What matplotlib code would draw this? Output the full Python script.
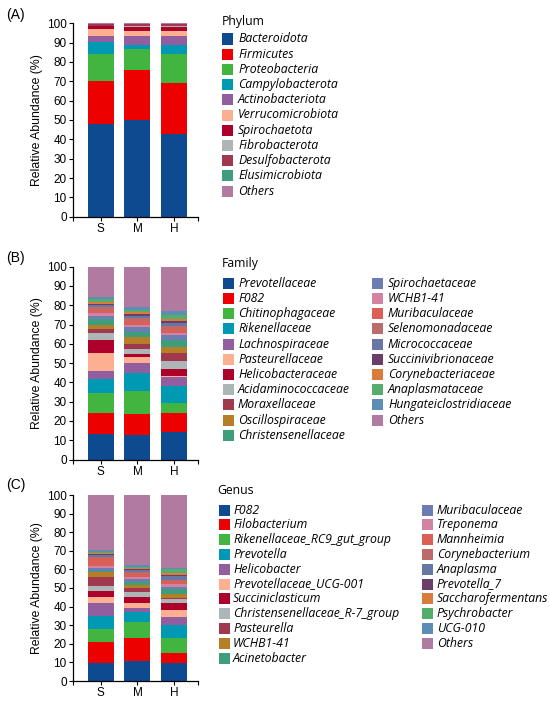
import numpy as np
import matplotlib
matplotlib.use('Agg')
import matplotlib.pyplot as plt
from matplotlib.patches import Rectangle

# ---------------- data ----------------
groups = ['S', 'M', 'H']

phylum_names = ['Bacteroidota', 'Firmicutes', 'Proteobacteria', 'Campylobacterota',
                'Actinobacteriota', 'Verrucomicrobiota', 'Spirochaetota', 'Fibrobacterota',
                'Desulfobacterota', 'Elusimicrobiota', 'Others']
phylum_S = [48.0, 22.2, 13.9, 6.4, 2.9, 3.5, 1.6, 0.3, 0.6, 0.2, 0.4]
phylum_M = [50.0, 25.9, 10.8, 2.1, 4.6, 2.6, 2.2, 0.4, 0.8, 0.2, 0.4]
phylum_H = [43.0, 26.0, 15.1, 4.7, 4.8, 2.4, 2.0, 0.5, 0.9, 0.4, 0.2]

family_names = ['Prevotellaceae', 'F082', 'Chitinophagaceae', 'Rikenellaceae',
                'Lachnospiraceae', 'Pasteurellaceae', 'Helicobacteraceae',
                'Acidaminococcaceae', 'Moraxellaceae', 'Oscillospiraceae',
                'Christensenellaceae', 'Spirochaetaceae', 'WCHB1-41', 'Muribaculaceae',
                'Selenomonadaceae', 'Micrococcaceae', 'Succinivibrionaceae',
                'Corynebacteriaceae', 'Anaplasmataceae', 'Hungateiclostridiaceae', 'Others']
family_S = [13.4, 10.7, 10.4, 7.2, 4.0, 9.5, 6.9, 3.5, 2.2, 2.0, 3.0, 1.7, 1.5, 1.8,
            1.2, 1.0, 0.8, 0.7, 1.5, 1.5, 15.5]
family_M = [12.6, 11.0, 12.1, 9.1, 5.0, 3.2, 1.5, 3.0, 2.5, 3.5, 2.5, 2.5, 1.5, 2.0,
            1.5, 1.0, 1.0, 1.0, 1.3, 1.2, 21.0]
family_H = [14.1, 10.0, 5.2, 9.0, 4.3, 0.5, 4.0, 3.9, 4.2, 3.4, 3.4, 2.4, 1.4, 2.0,
            1.6, 1.2, 1.0, 1.2, 2.0, 2.2, 23.0]

genus_names = ['F082', 'Filobacterium', 'Rikenellaceae_RC9_gut_group', 'Prevotella',
               'Helicobacter', 'Prevotellaceae_UCG-001', 'Succiniclasticum',
               'Christensenellaceae_R-7_group', 'Pasteurella', 'WCHB1-41', 'Acinetobacter',
               'Muribaculaceae', 'Treponema', 'Mannheimia', 'Corynebacterium', 'Anaplasma',
               'Prevotella_7', 'Saccharofermentans', 'Psychrobacter', 'UCG-010', 'Others']
genus_S = [9.9, 11.1, 6.8, 7.3, 7.0, 3.2, 3.1, 2.9, 4.5, 2.7, 0.5, 1.9, 1.0, 4.0,
           1.0, 0.6, 0.6, 0.6, 0.8, 0.9, 29.6]
genus_M = [10.8, 12.1, 9.0, 5.4, 1.8, 3.0, 3.2, 2.7, 1.8, 1.8, 1.8, 1.3, 1.4, 1.4,
           1.3, 0.9, 0.7, 0.5, 0.5, 0.9, 37.7]
genus_H = [9.9, 5.3, 7.7, 7.2, 4.1, 4.0, 3.6, 2.1, 0.5, 2.2, 2.7, 1.5, 1.2, 1.5,
           1.0, 1.7, 0.8, 1.3, 1.7, 1.0, 39.0]

palette = ['#0D4A8F', '#ED0000', '#42B540', '#0099B4', '#925E9F', '#FDAF91',
           '#AD002A', '#ADB6B6', '#A0384E', '#B47F26', '#3E9E7B', '#6B7DB3',
           '#D382A1', '#DB5F57', '#BC6B6B', '#6876A6', '#6A3D6A', '#D97B3A',
           '#54AE6B', '#5B8DB5', '#B07AA1']
phylum_colors = palette[:9] + ['#3E9E7B', '#B07AA1']

# ---------------- layout ----------------
W, H = 550, 703
fig = plt.figure(figsize=(5.5, 7.03), dpi=100)
TICKFONT = 'Liberation Sans'
LEGFONT = 'Open Sans'


def fx(px):
    return px / W


def fy(py):
    return 1 - py / H


def draw_panel(left, top, right, bottom, names, per_group, colors, label, label_y):
    ax = fig.add_axes([fx(left), fy(bottom), (right - left) / W, (bottom - top) / H])
    x = np.arange(len(groups))
    data = np.array(per_group).T  # taxa x groups
    base = np.zeros(len(groups))
    for vals, c in zip(data, colors):
        ax.bar(x, vals, width=0.71, bottom=base, color=c, linewidth=0)
        base = base + vals
    ax.set_xlim(-0.76, 2.66)
    ax.set_ylim(0, 100)
    ax.set_yticks(np.arange(0, 101, 10))
    ax.set_xticks(x)
    ax.set_xticklabels(groups)
    ax.set_xticks([-0.76, 2.66], minor=True)
    for s in ['top', 'right']:
        ax.spines[s].set_visible(False)
    for s in ['left', 'bottom']:
        ax.spines[s].set_linewidth(0.9)
    ax.tick_params(axis='both', which='both', length=3, width=0.8, pad=1.5,
                   labelsize=8.5)
    for t in ax.get_xticklabels() + ax.get_yticklabels():
        t.set_fontfamily(TICKFONT)
    ax.set_ylabel('Relative Abundance (%)', fontsize=8.8, family=TICKFONT, labelpad=3)
    fig.text(fx(6), fy(label_y), label, fontsize=10, family=TICKFONT,
             ha='left', va='center')
    return ax


def draw_legend(title, names, colors, title_x, title_y, first_y, step, ncol1,
                col_patch_x, col_text_x):
    fig.text(fx(title_x), fy(title_y), title, fontsize=8.8, family=LEGFONT,
             ha='left', va='center')
    for i, (n, c) in enumerate(zip(names, colors)):
        col = 0 if i < ncol1 else 1
        row = i if i < ncol1 else i - ncol1
        yc = first_y + row * step
        px = col_patch_x[col]
        fig.patches.append(Rectangle((fx(px), fy(yc + 5.5)), 11 / W, 11 / H,
                                     transform=fig.transFigure, facecolor=c,
                                     edgecolor='none'))
        fig.text(fx(col_text_x[col]), fy(yc), n, fontsize=8.8, family=LEGFONT,
                 style='italic', ha='left', va='center')


draw_panel(73, 23.3, 198.3, 216.7, phylum_names, [phylum_S, phylum_M, phylum_H],
           phylum_colors, '(A)', 15)
draw_panel(73, 266.7, 198.3, 459.5, family_names, [family_S, family_M, family_H],
           palette, '(B)', 258)
draw_panel(73, 495, 198.3, 681, genus_names, [genus_S, genus_M, genus_H],
           palette, '(C)', 485)

draw_legend('Phylum', phylum_names, phylum_colors, 222, 21, 39, 15.2, 11,
            [222, 0], [238, 0])
draw_legend('Family', family_names, palette, 222, 264, 283.3, 15.2, 11,
            [222.7, 372], [238, 388])
draw_legend('Genus', genus_names, palette, 217, 491, 510, 14.8, 11,
            [218.7, 422], [233, 436.7])

fig.savefig('out.png', dpi=100, facecolor='white')
